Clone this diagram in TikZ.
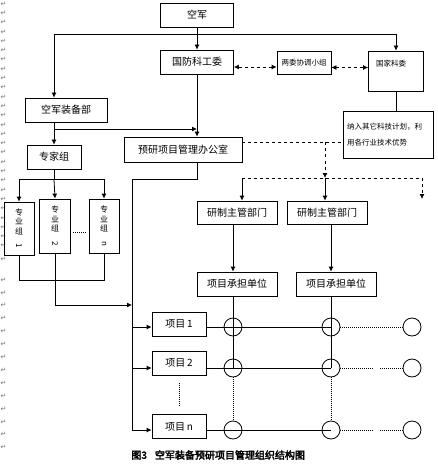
\documentclass[tikz,border=0pt]{standalone}
\usepackage{graphicx}
\usepackage{fontspec}
\setmainfont{Liberation Serif}
\newfontfamily\cjk{Noto Sans CJK SC}
\newfontfamily\cjkbf[FakeBold=3]{Noto Sans CJK SC}
\newfontfamily\symfont{DejaVu Sans}
\usetikzlibrary{arrows.meta}

\begin{document}
\begin{tikzpicture}[x=1pt, y=-1pt, >={Latex[length=5pt,width=5pt]}, line width=0.8pt]
    \tikzset{
        kuang/.style={draw, inner sep=0pt, minimum height=24pt, font=\cjk\fontsize{10}{12}\selectfont},
        xiao/.style={font=\cjk\fontsize{7.5}{9}\selectfont},
        shu/.style={kuang, align=center, font=\cjk\fontsize{8}{9.5}\selectfont},
        quan/.style={draw, circle, minimum size=18pt, inner sep=0pt},
        dian/.style={line width=0.6pt, dash pattern=on 1pt off 1pt},
        retmark/.style={inner sep=0pt, text=black!55, font=\symfont\fontsize{7}{7}\selectfont}
    }
    \useasboundingbox (0,0) rectangle (438,473);

    % left margin return marks
    \foreach \i in {0,...,25} \node[retmark] (ma\i) at (3.5,{4+9.3*\i}) {↵};
    \node[retmark] (mb1) at (3.5,245) {↵};
    \node[retmark] (mb2) at (3.5,259) {↵};
    \foreach \i in {0,...,13} \node[retmark] (mc\i) at (3.5,{280+12.9*\i}) {↵};

    % boxes
    \node[kuang, minimum width=73pt] (kj) at (197,15) {空军};
    \node[kuang, minimum width=73pt] (gfkgw) at (197,62) {国防科工委};
    \node[kuang, xiao, minimum width=54pt, minimum height=23pt] (lwxt) at (304,62.5) {两委协调小组};
    \node[kuang, xiao, minimum width=55pt, minimum height=40pt, text width=40pt, inner xsep=7.5pt,
          align=left, text height=6pt, text depth=14pt] (gjkw) at (396,71) {国家科委};
    \node[kuang, xiao, minimum width=90pt, minimum height=47pt, text width=82pt, inner xsep=4pt,
          align=left] (nrqt) at (388,134.5) {纳入其它科技计划，利\\[7pt]用各行业技术优势};
    \node[kuang, minimum width=82pt] (kjzbb) at (66,110) {空军装备部};
    \node[kuang, minimum width=54pt] (zjz) at (54,157) {专家组};
    \node[kuang, minimum width=118pt, minimum height=25pt] (yy) at (183,149.5) {预研项目管理办公室};

    \node[shu, minimum width=30pt, minimum height=53pt] (zy1) at (19,228.5) {专\\业\\组\\\rotatebox{-90}{1}};
    \node[shu, minimum width=31pt, minimum height=54pt] (zy2) at (55,226) {专\\业\\组\\\rotatebox{-90}{2}};
    \node[shu, minimum width=30pt, minimum height=54pt] (zyn) at (104,226) {专\\业\\组\\\rotatebox{-90}{n}};

    \node[kuang, minimum width=80pt, minimum height=23pt] (yz1) at (237,212.5) {研制主管部门};
    \node[kuang, minimum width=80pt, minimum height=23pt] (yz2) at (327,212.5) {研制主管部门};
    \node[kuang, minimum width=80pt] (cd1) at (237,284) {项目承担单位};
    \node[kuang, minimum width=80pt] (cd2) at (336,284) {项目承担单位};

    \node[kuang, minimum width=54pt] (xm1) at (179,324) {项目\,1};
    \node[kuang, minimum width=54pt] (xm2) at (179,363) {项目\,2};
    \node[kuang, minimum width=54pt] (xmn) at (179,426.5) {项目\,n};

    \foreach \r/\y in {1/327, 2/368, n/430}
        \foreach \c/\x in {1/233, 2/331, 3/412}
            \node[quan] (c\r\c) at (\x,\y) {};

    % top part
    \coordinate (ding) at (197,34);
    \draw[->] (kj) -- (gfkgw);
    \draw[->] (ding) -| (kjzbb.north -| zjz);
    \draw[->] (ding) -| (gjkw.north);
    \draw[dashed, <->] ([yshift=-5pt]gfkgw.east) -- ([yshift=-5pt]gfkgw.east -| lwxt.west);
    \draw[dashed, <->] ([yshift=-5pt]lwxt.east) -- ([yshift=-5pt]lwxt.east -| gjkw.west);
    \draw (gjkw.south) -- (gjkw.south |- nrqt.north);
    \draw[->] (gfkgw.south) -- (gfkgw.south |- yy.north);

    \coordinate (hj) at (54,129);
    \draw[->] (kjzbb.south -| zjz) -- (zjz.north);
    \draw[->] (hj) -- (hj -| gfkgw);

    % expert groups
    \draw (zjz.south) -- ++(0,10) coordinate (zj);
    \draw[->] (zj) -| (zy1.north);
    \draw[->] (zj) -| (zyn.north);
    \draw[->] (zj) -- (zy2.north);
    \draw[dian] ([shift={(2pt,-6pt)}]zy2.east) -- ([shift={(-2pt,-6pt)}]zy2.east -| zyn.west);
    \draw (zy1.south) -- ++(0,25) -| (zyn.south);

    % dashed branch to departments
    \coordinate (fen) at (325,178);
    \coordinate (fenL) at (242,178);
    \coordinate (fenR) at (422,178);
    \coordinate (fenRend) at (422,199);
    \draw[dashed] ([yshift=7pt]yy.east) -- ([yshift=7pt]yy.east -| nrqt.west);
    \draw[dashed, ->] ([yshift=7pt]yy.east -| fen) -- (fen);
    \draw[dashed] (fenL) -- (fenR);
    \draw[->] (fenL) -- (fenL |- yz1.north);
    \draw[->] (fen) -- (fen |- yz2.north);
    \draw[dashed, ->] (fenR) -- (fenRend);
    \draw[->] (yz1.south -| c11) -- (cd1.north -| c11);
    \draw[->] (yz2.south -| c12) -- (cd2.north -| c12);

    % trunk to projects
    \coordinate (gan) at (132,179);
    \coordinate (hui) at (132,305);
    \draw (yy.south -| gfkgw) |- (gan);
    \draw[->] (gan) |- (xmn.west |- cn1);
    \draw[->] (gan |- c11) -- (xm1.west |- c11);
    \draw[->] (gan |- c21) -- (xm2.west |- c21);
    \draw[->] (zy2.south) |- (hui);
    \draw[dian] ([yshift=-8pt]xm2.south) -- ([yshift=8pt]xmn.north);

    % matrix
    \draw (cd1.south -| c11) -- (c21.center);
    \draw (cd2.south -| c12) -- (c22.center);
    \draw[dian] (c21) -- (cn1);
    \draw[dian] (c22) -- (cn2);
    \draw (xm1.east |- c11) -- (c12.center);
    \draw (xm2.east |- c21) -- (c22.center);
    \draw (xmn.east |- cn1) -- (cn2.center);
    \draw[dian] (c12) -- (c13);
    \draw[dian] (c22.east) -- ++(33,0) ++(7,0) -- (c23);
    \draw[dian] (cn2.east) -- ++(33,0) ++(7,0) -- (cn3);

    \node[anchor=west, inner sep=0pt, font=\cjkbf\fontsize{10}{12}\selectfont] (tu) at (131,455) {图3\hspace{8pt}空军装备预研项目管理组织结构图};
\end{tikzpicture}
\end{document}
